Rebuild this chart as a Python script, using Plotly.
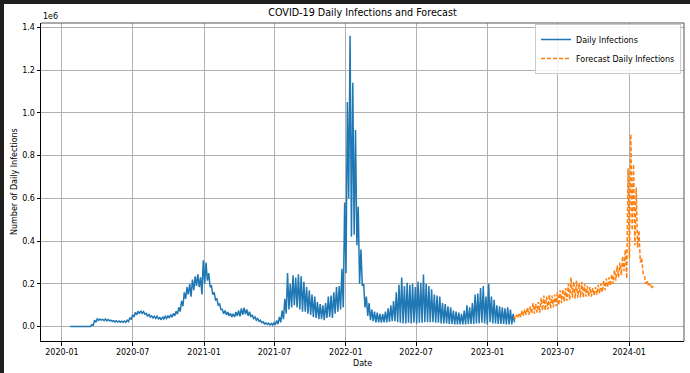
import plotly.graph_objects as go
import pandas as pd

# ---------------- data (thousands of daily infections) ----------------
# actual: one weekly "high" and "low" value per week starting 2020-01-22
actual_start = "2020-01-22"
actual_hi = [
    # 2020
    0, 0, 0, 0, 0, 0, 0.5, 2, 10, 30, 36, 35, 34, 36, 33, 30, 28, 27, 26, 25,
    26, 30, 42, 55, 66, 72, 74, 70, 62, 58, 50, 48, 48, 42, 46, 48, 50, 56, 62, 72,
    90, 120, 160, 185, 200, 220, 235, 245, 230, 310,
    # 2021
    300, 250, 190, 160, 130, 105, 80, 75, 68, 62, 60, 68, 75, 85, 88, 80, 70, 55, 45, 38,
    30, 22, 18, 16, 15, 18, 28, 45, 75, 130, 250, 200, 240, 230, 245, 235, 210, 185, 170, 150,
    140, 115, 105, 100, 110, 140, 145, 160, 185, 190, 270, 580,
    # 2022
    1050, 1360, 1140, 920, 560, 360, 200, 140, 110, 80, 70, 65, 60, 60, 70, 85, 100, 120, 160, 195,
    230, 190, 205, 195, 200, 185, 210, 205, 243, 200, 190, 175, 150, 145, 140, 110, 105, 95, 90, 75,
    70, 65, 60, 75, 100, 90, 110, 150, 155, 180, 190, 140,
    # 2023
    200, 140, 125, 100, 95, 90, 85, 90, 80, 60,
]
actual_lo = [
    # 2020
    0, 0, 0, 0, 0, 0, 0.3, 1, 6, 20, 30, 30, 28, 27, 27, 24, 22, 21, 20, 20,
    20, 23, 33, 45, 55, 60, 62, 58, 48, 45, 40, 38, 36, 32, 36, 38, 40, 44, 50, 58,
    70, 95, 130, 150, 140, 170, 190, 185, 150, 200,
    # 2021
    215, 185, 150, 125, 100, 80, 60, 55, 50, 45, 45, 50, 48, 55, 58, 50, 45, 38, 30, 25,
    18, 12, 10, 8, 7, 8, 12, 20, 35, 60, 80, 90, 100, 90, 80, 70, 70, 60, 55, 45,
    40, 35, 35, 30, 40, 45, 40, 60, 70, 80, 90, 250,
    # 2022
    600, 420, 430, 380, 200, 190, 90, 50, 30, 25, 20, 20, 18, 20, 20, 22, 25, 25, 20, 18,
    15, 15, 18, 15, 18, 15, 18, 18, 20, 20, 20, 20, 18, 18, 15, 15, 15, 12, 12, 10,
    10, 10, 10, 10, 12, 12, 12, 15, 15, 18, 15, 10,
    # 2023
    20, 15, 15, 12, 12, 12, 10, 10, 10, 20,
]

# forecast: weekly high/low starting 2023-03-10
forecast_start = "2023-03-10"
forecast_hi = [
    50, 55, 65, 75, 80, 90, 95, 110, 105, 115, 135, 145, 140, 150, 145, 150, 160, 170, 175, 180,
    200, 230, 210, 215, 205, 210, 200, 190, 185, 180, 185, 195, 200, 215, 225, 230, 245, 265, 285, 300,
    330, 360, 740, 900, 760, 650, 450, 320, 240, 215, 200, 190,
]
forecast_lo = [
    35, 40, 45, 50, 55, 55, 60, 60, 65, 65, 75, 75, 80, 85, 90, 95, 100, 110, 115, 120,
    125, 135, 130, 135, 135, 135, 140, 140, 140, 145, 150, 155, 160, 170, 185, 190, 200, 215, 230, 240,
    260, 225, 320, 450, 380, 370, 300, 250, 200, 190, 180, 175,
]

x_tick_vals = ["2020-01-01", "2020-07-01", "2021-01-01", "2021-07-01", "2022-01-01",
               "2022-07-01", "2023-01-01", "2023-07-01", "2024-01-01"]
x_tick_text = ["2020-01", "2020-07", "2021-01", "2021-07", "2022-01",
               "2022-07", "2023-01", "2023-07", "2024-01"]
y_tick_vals = [0, 200000, 400000, 600000, 800000, 1000000, 1200000, 1400000]
y_tick_text = ["0.0", "0.2", "0.4", "0.6", "0.8", "1.0", "1.2", "1.4"]

# ---------------- build series ----------------
def interleave(hi, lo):
    out = []
    for h, l in zip(hi, lo):
        out.extend([h * 1000, l * 1000])
    return out

actual_vals = interleave(actual_hi, actual_lo)
actual_dates = pd.date_range(actual_start, periods=len(actual_vals), freq="84h")
forecast_vals = interleave(forecast_hi, forecast_lo)
forecast_dates = pd.date_range(forecast_start, periods=len(forecast_vals), freq="84h")

FONT = "DejaVu Sans"
W, H = 690, 373
ML, MR, MT, MB = 41, 6, 23, 32
PW, PH = W - ML - MR, H - MT - MB

def px(xp):
    return (xp - ML) / PW

def py(yp):
    return (H - MB - yp) / PH

fig = go.Figure()
fig.add_trace(go.Scatter(
    x=actual_dates, y=actual_vals, mode="lines", name="Daily Infections",
    line=dict(color="#1f77b4", width=1.5),
))
fig.add_trace(go.Scatter(
    x=forecast_dates, y=forecast_vals, mode="lines", name="Forecast Daily Infections",
    line=dict(color="#ff7f0e", width=1.5, dash="4px,2px"),
))

DARK = "#1f1f1f"
fig.update_layout(
    width=W, height=H,
    margin=dict(l=ML, r=MR, t=MT, b=MB, pad=0),
    paper_bgcolor="white",
    plot_bgcolor="white",
    font=dict(family=FONT, size=8, color="black"),
    showlegend=True,
    legend=dict(
        x=px(681), y=py(24), xanchor="right", yanchor="top",
        bgcolor="rgba(255,255,255,0.85)", bordercolor="#cccccc", borderwidth=1,
        font=dict(family=FONT, size=8, color="black"),
        itemwidth=30, tracegroupgap=0,
    ),
    title=dict(
        text="COVID-19 Daily Infections and Forecast",
        x=px(362.5), xref="paper", xanchor="center",
        y=1 - 13 / H, yref="container", yanchor="middle",
        font=dict(family=FONT, size=9.6, color="black"),
    ),
    xaxis=dict(
        type="date",
        range=["2019-11-08", "2024-05-21"],
        tickvals=x_tick_vals, ticktext=x_tick_text,
        showgrid=True, gridcolor="#b0b0b0", gridwidth=0.8,
        showline=True, linecolor="black", linewidth=1,
        ticks="outside", ticklen=3.5, tickcolor="black", tickwidth=0.8,
        zeroline=False,
        tickfont=dict(family=FONT, size=8, color="black"),
    ),
    yaxis=dict(
        range=[-67400, 1420000],
        tickvals=y_tick_vals, ticktext=y_tick_text,
        showgrid=True, gridcolor="#b0b0b0", gridwidth=0.8,
        showline=True, linecolor="black", linewidth=1,
        ticks="outside", ticklen=3.5, tickcolor="black", tickwidth=0.8,
        zeroline=False,
        tickfont=dict(family=FONT, size=8, color="black"),
    ),
    shapes=[
        # dark frame strips (top and left)
        dict(type="rect", xref="paper", yref="paper",
             x0=px(-5), x1=px(W + 5), y0=py(4), y1=py(-5),
             fillcolor=DARK, line=dict(width=0), layer="above"),
        dict(type="rect", xref="paper", yref="paper",
             x0=px(-5), x1=px(4), y0=py(H + 5), y1=py(-5),
             fillcolor=DARK, line=dict(width=0), layer="above"),
        dict(type="line", xref="paper", yref="paper", x0=0, x1=1, y0=1, y1=1,
             line=dict(color="#555555", width=1), layer="above"),
        dict(type="line", xref="paper", yref="paper", x0=1, x1=1, y0=0, y1=1,
             line=dict(color="#555555", width=1), layer="above"),
    ],
    annotations=[
        dict(text="1e6", xref="paper", yref="paper", x=0, y=1,
             xanchor="left", yanchor="bottom", showarrow=False,
             font=dict(family=FONT, size=8, color="black")),
        dict(text="Date", xref="paper", yref="paper", x=0.5, y=py(363),
             xanchor="center", yanchor="middle", showarrow=False,
             font=dict(family=FONT, size=8, color="black")),
        dict(text="Number of Daily Infections", xref="paper", yref="paper",
             x=px(14), y=0.5, xanchor="center", yanchor="middle",
             textangle=-90, showarrow=False,
             font=dict(family=FONT, size=8, color="black")),
    ],
)

fig.write_html(
    "out.html",
    config={"displayModeBar": False},
    post_script="document.body.style.margin='0';document.body.style.padding='0';"
                "document.body.style.overflow='hidden';"
                "document.body.style.background='white';"
                "document.documentElement.style.background='white';"
                "document.documentElement.style.overflow='hidden';",
)
